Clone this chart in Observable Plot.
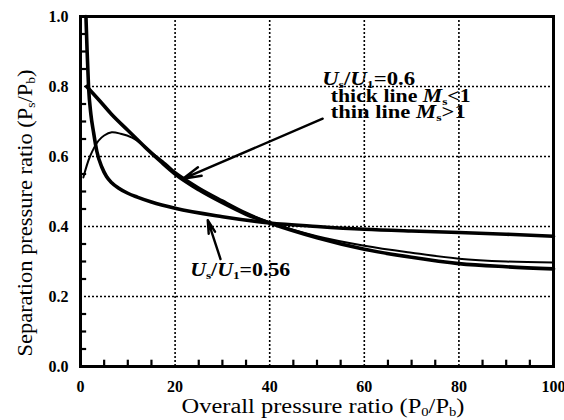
<!DOCTYPE html>
<html><head><meta charset="utf-8">
<script src="https://cdn.jsdelivr.net/npm/d3@7"></script>
<script src="https://cdn.jsdelivr.net/npm/@observablehq/plot@0.6"></script>
<style>body{margin:0;background:#fff}</style>
</head><body><div id="chart"></div>
<script>
const xTicks = [0, 20, 40, 60, 80, 100];
const yTicks = [0, 0.2, 0.4, 0.6, 0.8, 1.0];
const xGrid = [20, 40, 60, 80];
const yGrid = [0.2, 0.4, 0.6, 0.8];
const xMinor = [5,10,15,25,30,35,45,50,55,65,70,75,85,90,95];
const yMinor = [0.05,0.1,0.15,0.25,0.3,0.35,0.45,0.5,0.55,0.65,0.7,0.75,0.85,0.9,0.95];

// U_s/U_1 = 0.56 (thick)
const r056X = [1.15, 1.4, 1.7, 2.2, 2.75, 3.45, 4.5, 5.5, 6.6, 8, 10, 12, 15, 20, 30, 40, 50, 60, 70, 80, 90, 100];
const r056Y = [1.0, 0.9, 0.8, 0.72, 0.67, 0.615, 0.57, 0.543, 0.525, 0.51, 0.495, 0.484, 0.47, 0.452, 0.428, 0.41, 0.40, 0.392, 0.387, 0.383, 0.378, 0.372];
// U_s/U_1 = 0.6, thick line M_s<1
const thickX = [1.3, 4, 6.6, 10, 13.7, 17, 20, 25, 30, 35, 40, 50, 60, 70, 80, 90, 100];
const thickY = [0.80, 0.76, 0.72, 0.675, 0.626, 0.585, 0.55, 0.505, 0.468, 0.435, 0.41, 0.368, 0.335, 0.312, 0.294, 0.285, 0.279];
// U_s/U_1 = 0.6, thin line M_s>1
const thinX = [0.6, 2, 3.8, 5, 6.6, 8.5, 10.9, 13, 15.1, 18, 20, 25, 30, 35, 40, 50, 60, 70, 80, 90, 100];
const thinY = [0.54, 0.60, 0.645, 0.66, 0.669, 0.665, 0.654, 0.635, 0.611, 0.58, 0.556, 0.512, 0.475, 0.44, 0.412, 0.372, 0.345, 0.325, 0.308, 0.30, 0.297];

const arrows = [
  {x1: 51.2, y1: 0.708, x2: 21.6, y2: 0.536},
  {x1: 29.6, y1: 0.307, x2: 26.9, y2: 0.418}
];

const toRows = (xs, ys) => xs.map((x, i) => ({x, y: ys[i]}));
const serif = "Liberation Serif";

const plot = Plot.plot({
  width: 564, height: 420,
  marginLeft: 80, marginRight: 11, marginTop: 16, marginBottom: 54,
  x: {domain: [0, 100]},
  y: {domain: [0, 1]},
  style: {fontFamily: serif, fontSize: "16px", fontWeight: "bold", background: "white", color: "black", overflow: "visible"},
  marks: [
    Plot.gridX(xGrid, {stroke: "black", strokeOpacity: 1, strokeWidth: 1.6, strokeDasharray: "2,2"}),
    Plot.gridY(yGrid, {stroke: "black", strokeOpacity: 1, strokeWidth: 1.6, strokeDasharray: "2,2"}),
    Plot.ruleX(xMinor, {y1: 0, y2: 0.018, stroke: "black", strokeWidth: 2.2}),
    Plot.ruleY(yMinor, {x1: 0, x2: 1.3, stroke: "black", strokeWidth: 2.2}),
    Plot.line(toRows(r056X, r056Y), {x: "x", y: "y", stroke: "black", strokeWidth: 3.6, curve: "monotone-x"}),
    Plot.line(toRows(thinX, thinY), {x: "x", y: "y", stroke: "black", strokeWidth: 2, curve: "catmull-rom"}),
    Plot.line(toRows(thickX, thickY), {x: "x", y: "y", stroke: "black", strokeWidth: 3.6, curve: "monotone-x"}),
    Plot.arrow(arrows, {x1: "x1", y1: "y1", x2: "x2", y2: "y2", stroke: "black", strokeWidth: 2.4, headLength: 12, headAngle: 28}),
    Plot.frame({stroke: "black", strokeWidth: 3}),
    Plot.axisX(xTicks, {tickSize: 0, tickPadding: 14, label: null, fontSize: 16, fontWeight: "bold", fontFamily: serif}),
    Plot.axisY(yTicks, {tickSize: 0, tickPadding: 12, label: null, tickFormat: d3.format(".1f"), fontSize: 16, fontWeight: "bold", fontFamily: serif})
  ]
});
document.getElementById("chart").appendChild(plot);

const svg = d3.select(plot);
const xs = plot.scale("x"), ys = plot.scale("y");

function rich(g, parts, size) {
  parts.forEach(p => {
    const t = g.append("tspan").text(p.t);
    if (p.i) t.attr("font-style", "italic");
    if (p.sub) t.attr("font-size", Math.round(size * 0.62)).attr("dy", size * 0.16);
    if (p.up) t.attr("dy", -size * 0.16);
  });
}

// axis titles
const xt = svg.append("text").attr("x", 323).attr("y", 413).attr("text-anchor", "middle")
  .attr("font-family", serif).attr("font-size", 20).attr("font-weight", "normal").attr("fill", "black")
  .attr("textLength", 283).attr("lengthAdjust", "spacingAndGlyphs");
rich(xt, [{t: "Overall pressure ratio (P"}, {t: "0", sub: true}, {t: "/P", up: true}, {t: "b", sub: true}, {t: ")", up: true}], 20);

const yt = svg.append("text").attr("transform", "translate(32,213) rotate(-90)").attr("text-anchor", "middle")
  .attr("font-family", serif).attr("font-size", 20).attr("font-weight", "normal").attr("fill", "black")
  .attr("textLength", 287).attr("lengthAdjust", "spacingAndGlyphs");
rich(yt, [{t: "Separation pressure ratio (P"}, {t: "s", sub: true}, {t: "/P", up: true}, {t: "b", sub: true}, {t: ")", up: true}], 20);

// annotations
function note(xv, yv, parts, size, len) {
  const t = svg.append("text").attr("x", xs.apply(xv)).attr("y", ys.apply(yv)).attr("text-anchor", "start")
    .attr("font-family", serif).attr("font-size", size).attr("font-weight", "bold").attr("fill", "black")
    .attr("textLength", len).attr("lengthAdjust", "spacingAndGlyphs");
  rich(t, parts, size);
}
const fs = 18;
note(51.2, 0.802, [{t: "U", i: true}, {t: "s", sub: true}, {t: "/", up: true}, {t: "U", i: true}, {t: "1", sub: true}, {t: "=0.6", up: true}], fs, 93);
note(53.0, 0.755, [{t: "thick line "}, {t: "M", i: true}, {t: "s", sub: true}, {t: "<1", up: true}], fs, 140);
note(53.0, 0.708, [{t: "thin line "}, {t: "M", i: true}, {t: "s", sub: true}, {t: ">1", up: true}], fs, 135);
note(23.3, 0.256, [{t: "U", i: true}, {t: "s", sub: true}, {t: "/", up: true}, {t: "U", i: true}, {t: "1", sub: true}, {t: "=0.56", up: true}], fs, 100);
</script>
</body></html>
